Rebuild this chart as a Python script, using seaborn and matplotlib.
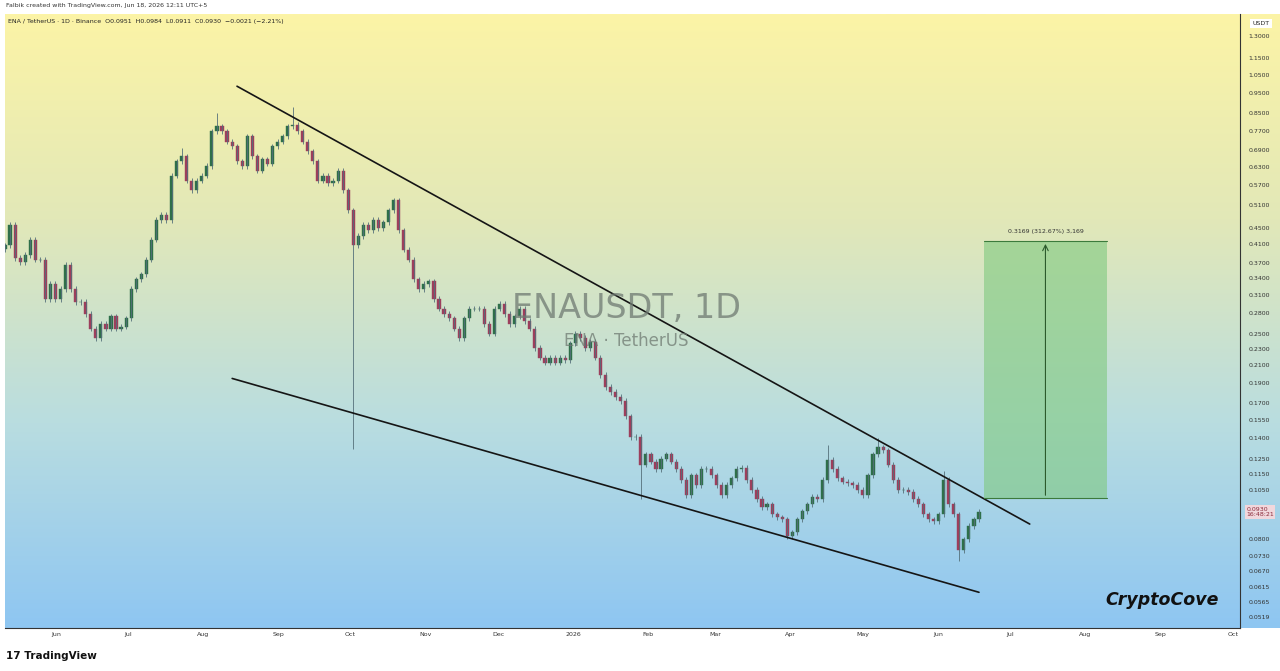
import matplotlib
matplotlib.use('Agg')
import numpy as np
import pandas as pd
import seaborn as sns
import matplotlib.pyplot as plt
import matplotlib.dates as mdates
from matplotlib.patches import Rectangle
from matplotlib.colors import LinearSegmentedColormap

# closes (2-day steps, May 11 2025 -> Jun 18 2026)
closes = [0.408, 0.456, 0.380, 0.372, 0.387, 0.421, 0.377, 0.377, 0.303, 0.329,
          0.303, 0.320, 0.366, 0.320, 0.298, 0.298, 0.279, 0.257, 0.244, 0.264,
          0.257, 0.275, 0.257, 0.260, 0.272, 0.320, 0.338, 0.347, 0.377, 0.421,
          0.469, 0.482, 0.469, 0.600, 0.650, 0.668, 0.584, 0.553, 0.584, 0.600,
          0.633, 0.767, 0.788, 0.767, 0.725, 0.706, 0.650, 0.633, 0.746, 0.668,
          0.617, 0.657, 0.641, 0.706, 0.725, 0.746, 0.788, 0.796, 0.767, 0.725,
          0.687, 0.650, 0.584, 0.600, 0.575, 0.584, 0.617, 0.553, 0.495, 0.408,
          0.430, 0.456, 0.443, 0.469, 0.449, 0.463, 0.495, 0.523, 0.443, 0.398,
          0.377, 0.338, 0.320, 0.329, 0.334, 0.303, 0.287, 0.279, 0.272, 0.257,
          0.244, 0.272, 0.287, 0.287, 0.287, 0.264, 0.250, 0.287, 0.295, 0.279,
          0.264, 0.275, 0.287, 0.268, 0.257, 0.231, 0.219, 0.213, 0.219, 0.213,
          0.219, 0.216, 0.237, 0.250, 0.244, 0.231, 0.239, 0.219, 0.199, 0.186,
          0.181, 0.176, 0.172, 0.158, 0.141, 0.141, 0.121, 0.128, 0.123, 0.118,
          0.125, 0.128, 0.123, 0.118, 0.111, 0.102, 0.114, 0.108, 0.118, 0.118,
          0.114, 0.108, 0.102, 0.108, 0.112, 0.118, 0.119, 0.111, 0.105, 0.100,
          0.0954, 0.0970, 0.0918, 0.0903, 0.0893, 0.0813, 0.0831, 0.0893, 0.0933, 0.0970,
          0.101, 0.100, 0.111, 0.124, 0.118, 0.112, 0.110, 0.109, 0.108, 0.105,
          0.102, 0.114, 0.128, 0.133, 0.131, 0.121, 0.111, 0.105, 0.105, 0.104,
          0.100, 0.0970, 0.0918, 0.0893, 0.0883, 0.0918, 0.111, 0.0970, 0.0918, 0.0753,
          0.0800, 0.0860, 0.0893, 0.0930]
first_open = 0.400
# notable wicks: index -> (high, low)
wick_extremes = {35: (0.701, None), 42: (0.850, None), 57: (0.876, None),
                 69: (None, 0.132), 126: (None, 0.100), 163: (0.135, None),
                 173: (0.140, None), 186: (0.117, None), 189: (None, 0.0707)}

upper_line = (["2025-08-15", "2026-07-09"], [0.985, 0.087])
lower_line = (["2025-08-13", "2026-06-18"], [0.195, 0.0596])
target_box = ("2026-06-20", "2026-08-10", 0.1005, 0.4174)

y_ticks = [1.3, 1.15, 1.05, 0.95, 0.85, 0.77, 0.69, 0.63, 0.57, 0.51, 0.45, 0.41,
           0.37, 0.34, 0.31, 0.28, 0.25, 0.23, 0.21, 0.19, 0.17, 0.155, 0.14, 0.125,
           0.115, 0.105, 0.08, 0.073, 0.067, 0.0615, 0.0565, 0.0519]
month_labels = ["Jun", "Jul", "Aug", "Sep", "Oct", "Nov", "Dec", "2026", "Feb", "Mar",
                "Apr", "May", "Jun", "Jul", "Aug", "Sep", "Oct"]

sns.set_style("white")
dates = pd.date_range("2025-05-11", "2026-06-18", periods=len(closes))
df = pd.DataFrame({"date": dates, "close": closes})
df["open"] = [first_open] + closes[:-1]
df["high"] = df[["open", "close"]].max(axis=1) * 1.015
df["low"] = df[["open", "close"]].min(axis=1) * 0.985
for i, (h, l) in wick_extremes.items():
    if h: df.loc[i, "high"] = h
    if l: df.loc[i, "low"] = l

fig = plt.figure(figsize=(12.8, 6.71), dpi=100)
fig.patch.set_facecolor("white")
ax = fig.add_axes([5 / 1280, 43 / 671, 1235 / 1280, 614 / 671])
ax.set_yscale("log")
x0, x1 = mdates.date2num(pd.Timestamp("2025-05-11")), mdates.date2num(pd.Timestamp("2026-10-04"))
y0, y1 = 0.0489, 1.47
# gradient background covering plot and price axis
bg = fig.add_axes([5 / 1280, 43 / 671, 1275 / 1280, 614 / 671], zorder=-1)
grad = np.linspace(0, 1, 256)[:, None]
cm = LinearSegmentedColormap.from_list("bg", ["#8ec6f2", "#b9dde0", "#e2e8b8", "#fcf4a6"])
bg.imshow(grad, aspect="auto", cmap=cm, origin="lower", extent=[0, 1, 0, 1])
bg.axis("off")
ax.patch.set_alpha(0)

up = df["close"] >= df["open"]
for mask, col in [(up, "#2f6f4a"), (~up, "#9c3f5c")]:
    d = df[mask]
    ax.vlines(d["date"], d["low"], d["high"], color="#55707a", lw=0.6)
    ax.bar(d["date"], (d["close"] - d["open"]).abs(), bottom=d[["open", "close"]].min(axis=1),
           width=1.3, color=col, edgecolor=col, lw=0.3)

for xs, ys in (upper_line, lower_line):
    sns.lineplot(x=pd.to_datetime(xs), y=ys, ax=ax, color="#151515", lw=1.2)

b0, b1, p0, p1 = target_box
bx0, bx1 = mdates.date2num(pd.Timestamp(b0)), mdates.date2num(pd.Timestamp(b1))
ax.add_patch(Rectangle((bx0, p0), bx1 - bx0, p1 - p0, facecolor="#7fc97f", alpha=0.6, edgecolor="none"))
ax.plot([bx0, bx1], [p1, p1], color="#3c7a3c", lw=0.8)
ax.plot([bx0, bx1], [p0, p0], color="#3c7a3c", lw=0.8)
xm = (bx0 + bx1) / 2
ax.annotate("", xy=(xm, p1), xytext=(xm, p0), arrowprops=dict(arrowstyle="->", color="#2c5a2c", lw=0.8))
ax.text(xm, p1 * 1.04, "0.3169 (312.67%) 3,169", ha="center", va="bottom", fontsize=4.5, color="#333")

ax.text(0.503, 0.521, "ENAUSDT, 1D", transform=ax.transAxes, ha="center", va="center",
        fontsize=24, color="#6f7a72", alpha=0.75)
ax.text(0.503, 0.468, "ENA · TetherUS", transform=ax.transAxes, ha="center", va="center",
        fontsize=12, color="#6f7a72", alpha=0.75)
ax.text(0.937, 0.045, "CryptoCove", transform=ax.transAxes, ha="center", va="center",
        fontsize=12.5, fontweight="bold", fontstyle="italic", color="#111")

ax.set_xlim(x0, x1)
ax.set_ylim(y0, y1)
ax.set_xlabel("")
ax.set_ylabel("")
ax.yaxis.tick_right()
ax.set_yticks(y_ticks)
ax.set_yticklabels([f"{v:.4f}" for v in y_ticks])
ax.yaxis.set_minor_locator(matplotlib.ticker.NullLocator())
ax.tick_params(axis="y", labelsize=4.5, length=0, pad=6, colors="#333")
months = pd.date_range("2025-06-01", "2026-10-01", freq="MS")
ax.set_xticks(months)
ax.set_xticklabels(month_labels)
ax.tick_params(axis="x", labelsize=4.5, length=0, pad=3, colors="#333")
for s in ["top", "left"]:
    ax.spines[s].set_visible(False)
ax.spines["right"].set_color("#333")
ax.spines["bottom"].set_color("#333")
ax.spines["right"].set_linewidth(0.8)
ax.spines["bottom"].set_linewidth(0.8)
ax.text(1.01, 0.985, "USDT", transform=ax.transAxes, fontsize=4.5, va="center",
        bbox=dict(facecolor="white", edgecolor="none", pad=1.5))
ax.text(1.005, (np.log(0.093) - np.log(y0)) / (np.log(y1) - np.log(y0)), "0.0930\n16:48:21",
        transform=ax.transAxes, fontsize=4.5, va="center", color="#8a2b3b",
        bbox=dict(facecolor="#f1d7dc", edgecolor="none", pad=1))

fig.text(6 / 1280, 1 - 6 / 671, "Falbik created with TradingView.com, Jun 18, 2026 12:11 UTC+5",
         fontsize=4.5, va="center", color="#333")
fig.text(8 / 1280, 1 - 21 / 671, "ENA / TetherUS · 1D · Binance  O0.0951  H0.0984  L0.0911  C0.0930  −0.0021 (−2.21%)",
         fontsize=4.5, va="center", color="#222")
fig.text(6 / 1280, 15 / 671, "17 TradingView", fontsize=7.5, fontweight="bold", va="center", color="#111")

fig.savefig("out.png", dpi=100)
